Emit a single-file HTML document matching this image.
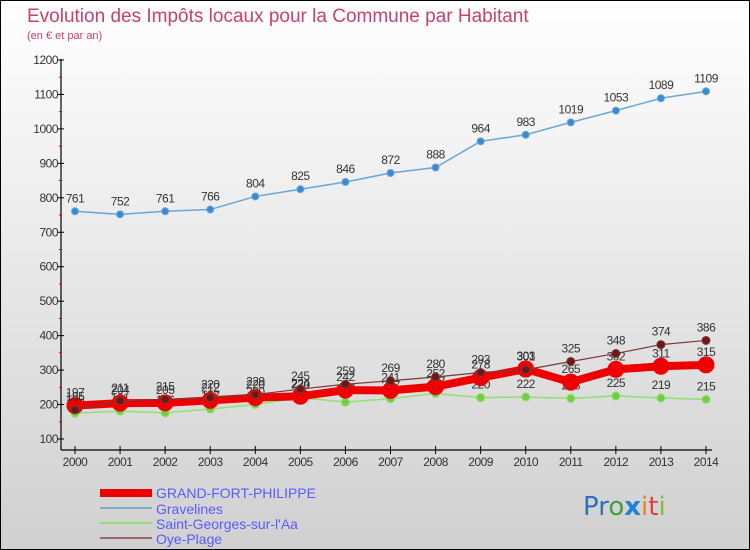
<!DOCTYPE html>
<html><head><meta charset="utf-8"><style>
body{margin:0;width:750px;height:550px;overflow:hidden;font-family:"Liberation Sans",sans-serif}
svg{display:block}
</style></head><body>
<svg id="c" width="750" height="550" xmlns="http://www.w3.org/2000/svg">
<defs><linearGradient id="bg" x1="0" y1="0" x2="0" y2="1"><stop offset="0" stop-color="#ffffff"/><stop offset="1" stop-color="#d0d0d0"/></linearGradient></defs>
<rect x="0.5" y="0.5" width="749" height="549" fill="url(#bg)" stroke="#000"/>
<text x="27" y="22" font-size="19" fill="#c8406e">Evolution des Impôts locaux pour la Commune par Habitant</text>
<text x="27" y="39" font-size="11" fill="#c8406e">(en € et par an)</text>
<g id="axes"></g><g id="series"></g>
<g>
<rect x="100" y="489" width="52" height="8" fill="#ee0000"/>
<text x="156" y="498" font-size="14" fill="#5a5aff">GRAND-FORT-PHILIPPE</text>
<rect x="100" y="507" width="52" height="2" fill="#7aaed0"/>
<text x="156" y="514" font-size="14" fill="#5a5aff">Gravelines</text>
<rect x="100" y="522" width="52" height="2" fill="#90e070"/>
<text x="156" y="529" font-size="14" fill="#5a5aff">Saint-Georges-sur-l'Aa</text>
<rect x="100" y="537" width="52" height="2" fill="#9a6a6a"/>
<text x="156" y="544" font-size="14" fill="#5a5aff">Oye-Plage</text>
</g>
<text x="583" y="515" font-size="26" font-family="'DejaVu Sans',sans-serif"><tspan fill="#3070c0">Pr</tspan><tspan fill="#40a040">o</tspan><tspan fill="#2080e0" font-weight="bold">x</tspan><tspan fill="#f08020">i</tspan><tspan fill="#e04040">t</tspan><tspan fill="#80c040">i</tspan></text>
</svg>
<script>
const years=[2000,2001,2002,2003,2004,2005,2006,2007,2008,2009,2010,2011,2012,2013,2014];
const yTicks=[100,200,300,400,500,600,700,800,900,1000,1100,1200];
const grandFort=[197,204,205,212,220,224,242,241,252,278,303,265,302,311,315];
const gravelines=[761,752,761,766,804,825,846,872,888,964,983,1019,1053,1089,1109];
const saintGeorges=[175,181,176,187,200,220,207,217,232,220,222,218,225,219,215];
const oyePlage=[185,211,215,220,229,245,259,269,280,293,301,325,348,374,386];
const NS="http://www.w3.org/2000/svg";
const x=i=>75+i*(706-75)/14;
const y=v=>439-(v-100)*(439-60)/1100;
const ax=document.getElementById('axes'),sg=document.getElementById('series');
function mk(tag,at,par){const e=document.createElementNS(NS,tag);for(const k in at)e.setAttribute(k,at[k]);par.appendChild(e);return e;}
let e=mk('line',{x1:61,y1:59,x2:61,y2:450,stroke:'#000','stroke-width':1.2},ax);


e=mk('line',{x1:61,y1:450,x2:712,y2:450,stroke:'#000','stroke-width':1.2},ax);


yTicks.forEach((t,i)=>{
 mk('line',{x1:58,y1:y(t),x2:64,y2:y(t),stroke:'#000'},ax);
 if(i<yTicks.length-1)mk('line',{x1:59,y1:y(t+50),x2:62,y2:y(t+50),stroke:'#e00'},ax);
 const l=mk('text',{x:58,y:y(t)+4,'font-size':12,'text-anchor':'end',fill:'#333','letter-spacing':'-0.5'},ax);
 l.textContent=t;
 
 
});
years.forEach((yr,i)=>{
 mk('line',{x1:x(i),y1:446,x2:x(i),y2:454,stroke:'#000'},ax);
 const l=mk('text',{x:x(i),y:466,'font-size':12,'text-anchor':'middle',fill:'#333','letter-spacing':'-0.5'},ax);
 l.textContent=yr;
 
 
});
function series(data,name,color,w,r,pc){
 const g=mk('g',{},sg);
 
 
 mk('polyline',{points:data.map((v,i)=>x(i)+','+y(v)).join(' '),fill:'none',stroke:color,'stroke-width':w,'stroke-linejoin':'round'},g);
 data.forEach((v,i)=>{
  const c=mk('circle',{cx:x(i),cy:y(v),r:r,fill:pc,stroke:color,'stroke-width':1},g);
  
  
  const t=mk('text',{x:x(i),y:y(v)-9,'font-size':12,'text-anchor':'middle',fill:'#333','letter-spacing':'-0.5'},g);
  t.textContent=v;
  
  
 });
}
series(gravelines,'gravelines','#6aa6d6',1.5,3.5,'#3a8ad0');
series(saintGeorges,'saint-georges','#90e070',1.5,4,'#70d040');
series(grandFort,'grand-fort-philippe','#ee0000',8,8,'#ee0000');
series(oyePlage,'oye-plage','#7a3a3a',1.2,4,'#6a1a1a');
</script>
</body></html>
